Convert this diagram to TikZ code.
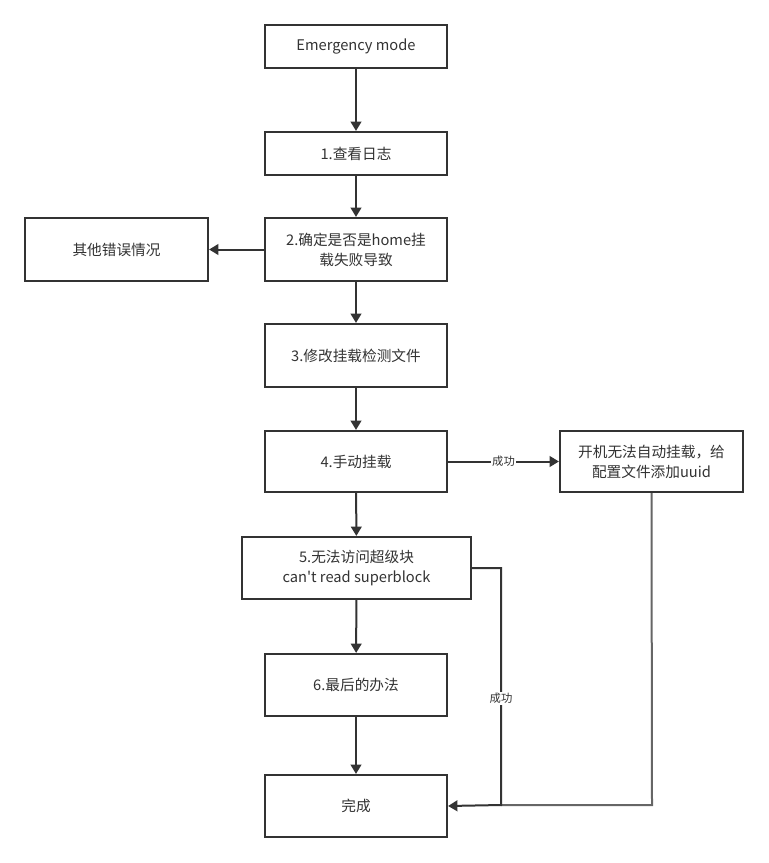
\documentclass[tikz,border=0pt]{standalone}
\usepackage{fontspec}
\setmainfont{Noto Sans CJK SC}
\usetikzlibrary{arrows.meta}
\definecolor{ln}{HTML}{333333}
\definecolor{ln2}{HTML}{666666}
\tikzset{
  box/.style={draw=ln, line width=1.6pt, fill=white, inner sep=0pt, align=center, font=\fontsize{11}{15}\selectfont, text=ln},
  arr/.style={draw=ln, line width=1.5pt, -{Triangle[length=7pt,width=8pt]}},
  lbl/.style={fill=white, inner sep=1pt, font=\fontsize{8.5}{10}\selectfont, text=ln}
}
\begin{document}
\begin{tikzpicture}[x=0.75pt,y=-0.75pt]
\useasboundingbox (0,0) rectangle (768,863);
\node[box, minimum width=182*0.75pt, minimum height=43*0.75pt] (em) at (356,46.5) {Emergency mode};
\node[box, minimum width=182*0.75pt, minimum height=43*0.75pt] (s1) at (356,153.5) {1.查看日志};
\node[box, minimum width=182*0.75pt, minimum height=63*0.75pt] (s2) at (356,249.5) {2.确定是否是home挂\\载失败导致};
\node[box, minimum width=183*0.75pt, minimum height=63*0.75pt] (oth) at (116.5,249.5) {其他错误情况};
\node[box, minimum width=182*0.75pt, minimum height=63*0.75pt] (s3) at (356,355.5) {3.修改挂载检测文件};
\node[box, minimum width=182*0.75pt, minimum height=61*0.75pt] (s4) at (356,461.5) {4.手动挂载};
\node[box, minimum width=183*0.75pt, minimum height=61*0.75pt] (side) at (651.5,461.5) {开机无法自动挂载，给\\配置文件添加uuid};
\node[box, minimum width=229*0.75pt, minimum height=62*0.75pt] (s5) at (356.5,568) {5.无法访问超级块\\can\textquotesingle t read superblock};
\node[box, minimum width=182*0.75pt, minimum height=62*0.75pt] (s6) at (356,685) {6.最后的办法};
\node[box, minimum width=182*0.75pt, minimum height=62*0.75pt] (done) at (356,806) {完成};
\coordinate (c1) at (501,568);
\coordinate (c2) at (501,805);
\coordinate (c3) at (652,805);
\draw[arr] (em) -- (s1);
\draw[arr] (s1) -- (s2);
\draw[arr] (s2) -- (oth);
\draw[arr] (s2) -- (s3);
\draw[arr] (s3) -- (s4);
\draw[arr] (s4) -- node[lbl]{成功} (side);
\draw[arr] (s4) -- (s5);
\draw[arr] (s5) -- (s6);
\draw[arr] (s6) -- (done);
\draw[draw=ln2, line width=1.5pt] (side.south) -- (c3) -- (c2);
\draw[arr] (s5.east) -- (c1) -- node[lbl, pos=0.55]{成功} (c2) -- (done.east);
\end{tikzpicture}
\end{document}
